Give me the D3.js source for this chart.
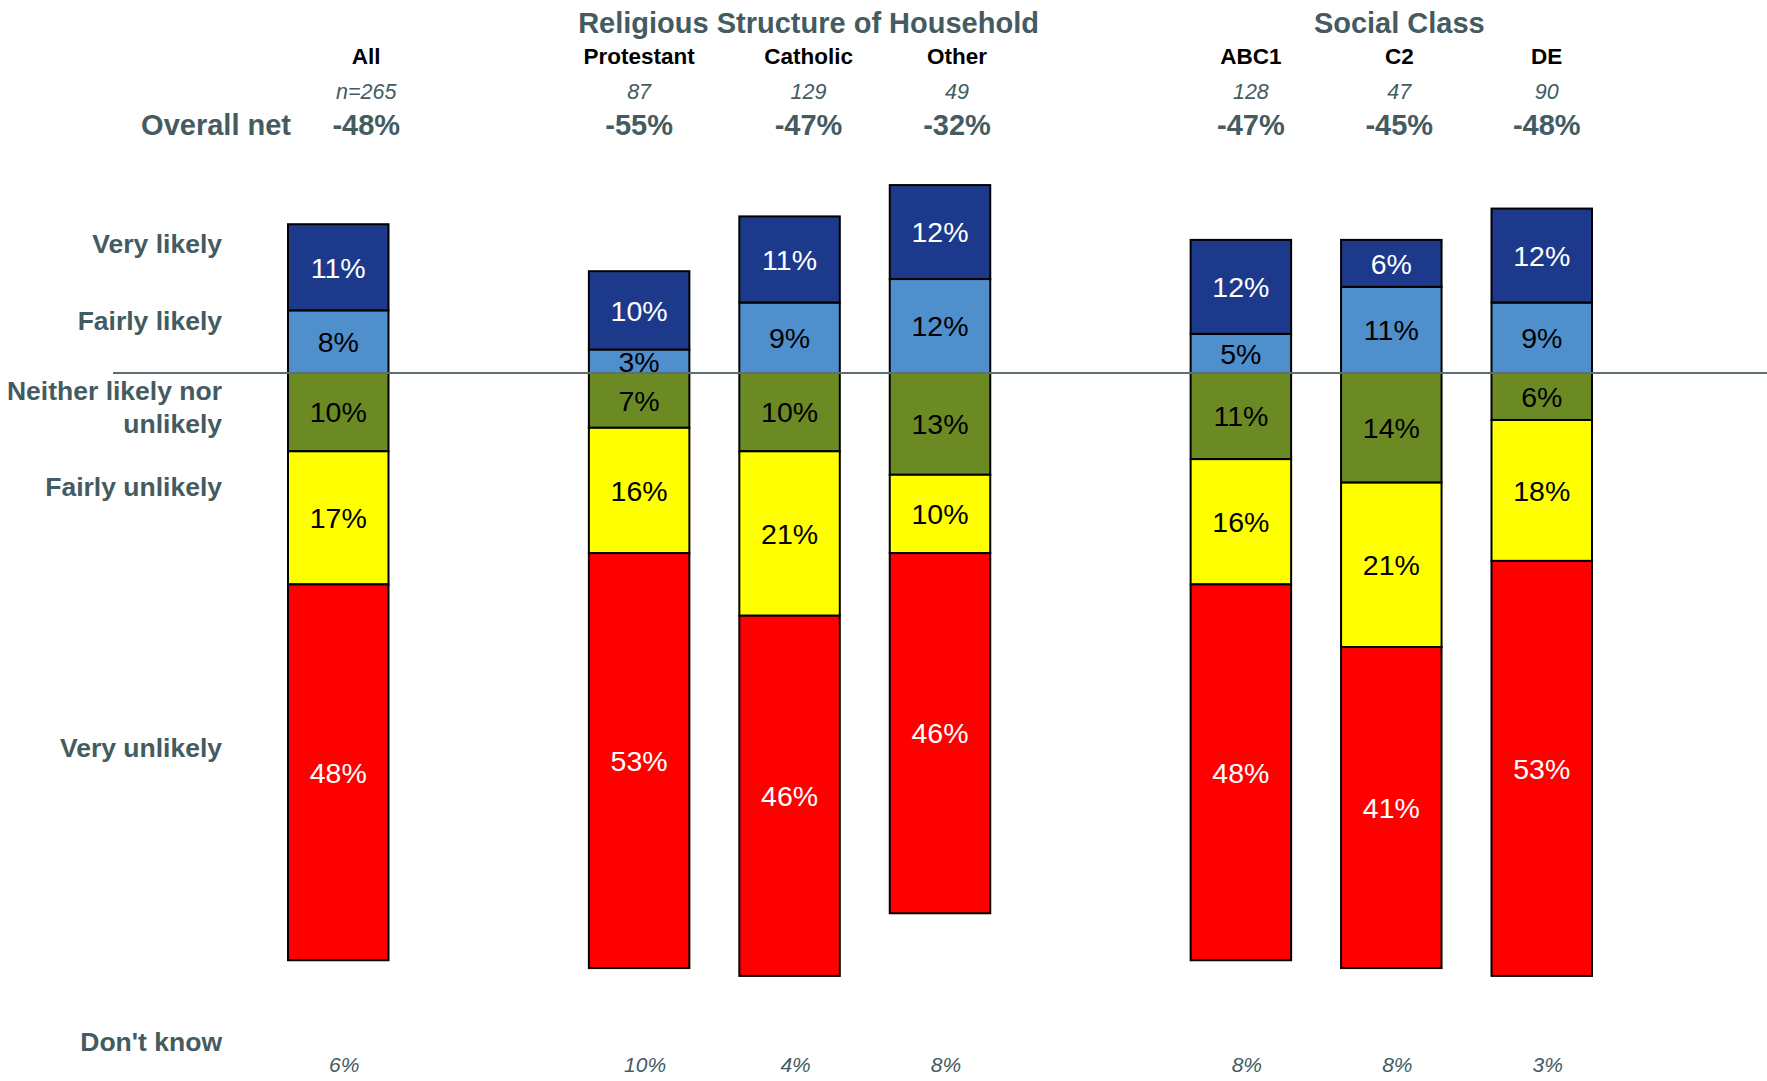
<!DOCTYPE html>
<html>
<head>
<meta charset="utf-8">
<script src="https://cdn.jsdelivr.net/npm/d3@7"></script>
<style>
  body { margin: 0; background: #fff; }
  svg { display: block; font-family: "Liberation Sans", Arial, sans-serif; }
</style>
</head>
<body>
<div id="grafico"></div>
<script>
// data
const columns = ["All", "Protestant", "Catholic", "Other", "ABC1", "C2", "DE"];
const columnGroup = [null, "Religious Structure of Household", "Religious Structure of Household", "Religious Structure of Household", "Social Class", "Social Class", "Social Class"];
const sampleSize = ["n=265", "87", "129", "49", "128", "47", "90"];
const overallNet = [-48, -55, -47, -32, -47, -45, -48];

const veryLikely = [11, 10, 11, 12, 12, 6, 12];
const fairlyLikely = [8, 3, 9, 12, 5, 11, 9];
const neither = [10, 7, 10, 13, 11, 14, 6];
const fairlyUnlikely = [17, 16, 21, 10, 16, 21, 18];
const veryUnlikely = [48, 53, 46, 46, 48, 41, 53];
const dontKnow = [6, 10, 4, 8, 8, 8, 3];

const rowLabels = ["Very likely", "Fairly likely", "Neither likely nor|unlikely", "Fairly unlikely", "Very unlikely", "Don't know"];

// layout
const width = 1767;
const height = 1081;
const baseline = 373;
const perPoint = 7.83;
const headerNudge = [28, 0, 19, 17, 10, 8, 5];
const rowLabelY = [244, 321, 391, 487, 748, 1042];
const grey = "#435b61";

const keys = ["fairlyLikely", "veryLikely", "neither", "fairlyUnlikely", "veryUnlikely"];
const colors = {
    veryLikely: "#1c398b",
    fairlyLikely: "#4f8fcc",
    neither: "#6b8a23",
    fairlyUnlikely: "#ffff00",
    veryUnlikely: "#ff0000"
};
const textColors = {
    veryLikely: "#fff",
    fairlyLikely: "#000",
    neither: "#000",
    fairlyUnlikely: "#000",
    veryUnlikely: "#fff"
};

const table = columns.map((c, i) => ({
    name: c,
    veryLikely: veryLikely[i],
    fairlyLikely: fairlyLikely[i],
    neither: -neither[i],
    fairlyUnlikely: -fairlyUnlikely[i],
    veryUnlikely: -veryUnlikely[i]
}));

// slots with gaps between groups
const slots = [];
columns.forEach((c, i) => {
    if (i > 0 && columnGroup[i] !== columnGroup[i - 1]) slots.push("gap" + i);
    slots.push(c);
});

const svg = d3.select("#grafico")
              .append("svg")
              .attr("width", width)
              .attr("height", height);

const xScale = d3.scaleBand()
                 .domain(slots)
                 .range([288, 1592])
                 .paddingInner(0.332)
                 .paddingOuter(0);

const yScale = d3.scaleLinear()
                 .domain([-80, 30])
                 .range([baseline + 80 * perPoint, baseline - 30 * perPoint]);

const cx = name => xScale(name) + xScale.bandwidth() / 2;

const series = d3.stack()
                 .keys(keys)
                 .offset(d3.stackOffsetDiverging)(table);

// bars
const layers = svg.append("g")
                  .selectAll("g")
                  .data(series)
                  .join("g")
                  .attr("fill", d => colors[d.key]);

layers.selectAll("rect")
      .data(d => d)
      .join("rect")
      .attr("x", d => xScale(d.data.name))
      .attr("width", xScale.bandwidth())
      .attr("y", d => yScale(Math.max(d[0], d[1])))
      .attr("height", d => Math.abs(yScale(d[0]) - yScale(d[1])))
      .attr("stroke", "#000")
      .attr("stroke-width", 2);

// zero line
svg.append("line")
   .attr("x1", 113)
   .attr("x2", width)
   .attr("y1", yScale(0))
   .attr("y2", yScale(0))
   .attr("stroke", "#5b6f74")
   .attr("stroke-width", 2);

// segment labels
series.forEach(s => {
    svg.append("g")
       .selectAll("text")
       .data(s)
       .join("text")
       .attr("x", d => cx(d.data.name))
       .attr("y", d => (yScale(d[0]) + yScale(d[1])) / 2)
       .attr("dy", "0.36em")
       .attr("text-anchor", "middle")
       .attr("font-size", "28.5px")
       .attr("fill", textColors[s.key])
       .text(d => Math.abs(d[1] - d[0]) + "%");
});

// header table
const headerX = columns.map((c, i) => cx(c) + headerNudge[i]);

const groups = Array.from(new Set(columnGroup.filter(g => g)));
groups.forEach(g => {
    const idx = columnGroup.map((v, i) => v === g ? i : -1).filter(i => i >= 0);
    const mid = idx[Math.floor(idx.length / 2)];
    svg.append("text")
       .attr("x", headerX[mid])
       .attr("y", 33)
       .attr("text-anchor", "middle")
       .attr("font-size", "29px")
       .attr("font-weight", "bold")
       .attr("fill", grey)
       .text(g);
});

svg.append("g")
   .selectAll("text")
   .data(columns)
   .join("text")
   .attr("x", (d, i) => headerX[i])
   .attr("y", 64)
   .attr("text-anchor", "middle")
   .attr("font-size", "22.5px")
   .attr("font-weight", "bold")
   .attr("fill", "#000")
   .text(d => d);

svg.append("g")
   .selectAll("text")
   .data(sampleSize)
   .join("text")
   .attr("x", (d, i) => headerX[i])
   .attr("y", 99)
   .attr("text-anchor", "middle")
   .attr("font-size", "21.5px")
   .attr("font-style", "italic")
   .attr("fill", grey)
   .text(d => d);

svg.append("text")
   .attr("x", 291)
   .attr("y", 135)
   .attr("text-anchor", "end")
   .attr("font-size", "29px")
   .attr("font-weight", "bold")
   .attr("fill", grey)
   .text("Overall net");

svg.append("g")
   .selectAll("text")
   .data(overallNet)
   .join("text")
   .attr("x", (d, i) => headerX[i])
   .attr("y", 135)
   .attr("text-anchor", "middle")
   .attr("font-size", "29px")
   .attr("font-weight", "bold")
   .attr("fill", grey)
   .text(d => d + "%");

// row labels
rowLabels.forEach((label, i) => {
    const lines = label.split("|");
    const t = svg.append("text")
                 .attr("text-anchor", "end")
                 .attr("font-size", "26.5px")
                 .attr("font-weight", "bold")
                 .attr("fill", grey);
    lines.forEach((l, j) => {
        t.append("tspan")
         .attr("x", 222)
         .attr("y", rowLabelY[i] + j * 33)
         .attr("dy", "0.35em")
         .text(l);
    });
});

// don't know values
svg.append("g")
   .selectAll("text")
   .data(dontKnow)
   .join("text")
   .attr("x", (d, i) => cx(columns[i]) + 6)
   .attr("y", 1072)
   .attr("text-anchor", "middle")
   .attr("font-size", "21px")
   .attr("font-style", "italic")
   .attr("fill", grey)
   .text(d => d + "%");
</script>
</body>
</html>
